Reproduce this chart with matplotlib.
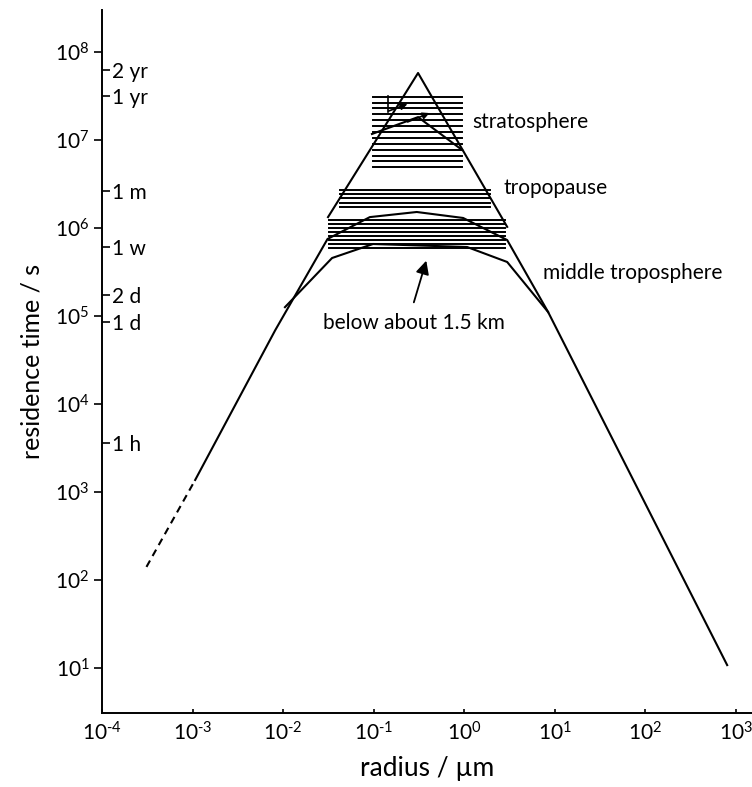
import numpy as np
import matplotlib
matplotlib.use('Agg')
import matplotlib.pyplot as plt
from matplotlib.ticker import NullLocator

plt.rcParams['font.family'] = ['Lato', 'DejaVu Sans']
plt.rcParams['mathtext.fontset'] = 'custom'
plt.rcParams['mathtext.rm'] = 'Lato'
plt.rcParams['mathtext.default'] = 'regular'

# radius in um, residence time in s
dash_r = [3.1e-4, 1.07e-3]
dash_t = [141, 1.37e3]

trop_r = [1.07e-3, 8.2e-3, 3.1e-2, 9.1e-2, 0.30, 0.975, 2.99, 8.47, 805]
trop_t = [1.37e3, 6.9e4, 7.5e5, 1.33e6, 1.52e6, 1.30e6, 7.3e5, 1.11e5, 10.8]

low_r = [1.05e-2, 3.48e-2, 9.86e-2, 1.08, 2.99, 8.47]
low_t = [1.26e5, 4.56e5, 6.58e5, 6.08e5, 4.11e5, 1.11e5]

peak_r = [3.14e-2, 0.310, 2.99]
peak_t = [1.33e6, 5.77e7, 1.03e6]

inner_r = [9.6e-2, 0.310, 0.95]
inner_t = [1.17e7, 1.82e7, 7.7e6]

# hatched ranges: stratosphere, tropopause, lower layers
band_r_lo = [0.099, 0.043, 0.032]
band_r_hi = [0.95, 1.94, 2.8]
band_t_lo = [4.9e6, 1.74e6, 5.9e5]
band_t_hi = [3.1e7, 2.7e6, 1.23e6]
band_n = [13, 5, 8]

time_vals = [6.31e7, 3.156e7, 2.63e6, 6.05e5, 1.728e5, 8.64e4, 3600]
time_labels = ['2 yr', '1 yr', '1 m', '1 w', '2 d', '1 d', '1 h']

x_exp = np.arange(-4, 4)
y_exp = np.arange(1, 9)


def pow_label(e):
    # plain hyphen in the exponent
    sign = r'\text{-}' if e < 0 else ''
    return r'$10^{%s%d}$' % (sign, abs(e))


fig = plt.figure(figsize=(7.52, 7.87), dpi=100)
ax = fig.add_axes([0.1356, 0.094, 0.8644, 0.8933])
ax.set_xscale('log')
ax.set_yscale('log')
ax.set_xlim(1e-4, 10**3.18)
ax.set_ylim(10**0.489, 10**8.477)

for rlo, rhi, tlo, thi, n in zip(band_r_lo, band_r_hi, band_t_lo, band_t_hi, band_n):
    for t in np.geomspace(tlo, thi, n):
        ax.plot([rlo, rhi], [t, t], color='black', lw=1.4)

ax.plot(dash_r, dash_t, color='black', lw=1.5, dashes=(3.5, 2.5))
ax.plot(trop_r, trop_t, color='black', lw=1.5)
ax.plot(low_r, low_t, color='black', lw=1.5)
ax.plot(peak_r, peak_t, color='black', lw=1.5)
ax.plot(inner_r, inner_t, color='black', lw=1.5)

# small arrows inside the stratosphere range
ax.plot([10**-0.84, 10**-0.84], [10**7.318, 10**7.50], color='black', lw=1.2)
ax.annotate('', xy=(10**-0.597, 10**7.42), xytext=(10**-0.862, 10**7.318),
            arrowprops=dict(arrowstyle='-|>', color='black', lw=1.2, mutation_scale=10))
ax.annotate('', xy=(10**-0.354, 10**7.318), xytext=(10**-0.652, 10**7.193),
            arrowprops=dict(arrowstyle='-|>', color='black', lw=1.2, mutation_scale=10))

ax.annotate('', xy=(10**-0.409, 10**5.659), xytext=(10**-0.564, 10**5.125),
            arrowprops=dict(arrowstyle='-|>', color='black', lw=1.3, mutation_scale=20))

txt = dict(fontsize=15, va='center', ha='left')
ax.text(10**0.088, 10**7.205, 'stratosphere', **txt)
ax.text(10**0.431, 10**6.455, 'tropopause', **txt)
ax.text(10**0.873, 10**5.489, 'middle troposphere', **txt)
ax.text(10**-1.558, 10**4.92, 'below about 1.5 km', **txt)

for side in ['top', 'right']:
    ax.spines[side].set_visible(False)
for side in ['left', 'bottom']:
    ax.spines[side].set_linewidth(1.4)

ax.set_xticks(10.0**x_exp, [pow_label(e) for e in x_exp])
ax.set_yticks(10.0**y_exp, [pow_label(e) for e in y_exp])
ax.xaxis.set_minor_locator(NullLocator())
ax.yaxis.set_minor_locator(NullLocator())
ax.tick_params(axis='x', direction='in', length=3, width=1.2, labelsize=15, pad=6)
ax.tick_params(axis='y', direction='out', length=6, width=1.2, labelsize=15, pad=3)

ax.set_xlabel('radius / µm', fontsize=19, labelpad=8)
ax.set_ylabel('residence time / s', fontsize=18, labelpad=8)

# time scale marks on the inner side of the y axis
ax2 = ax.twinx()
ax2.set_yscale('log')
ax2.set_ylim(ax.get_ylim())
ax2.spines['right'].set_position(('axes', 0))
for s in ax2.spines.values():
    s.set_visible(False)
ax2.set_yticks(time_vals, time_labels)
ax2.yaxis.set_minor_locator(NullLocator())
ax2.tick_params(axis='y', direction='out', length=6, width=1.2, labelsize=15, pad=1)

fig.savefig('out.png', dpi=100)
